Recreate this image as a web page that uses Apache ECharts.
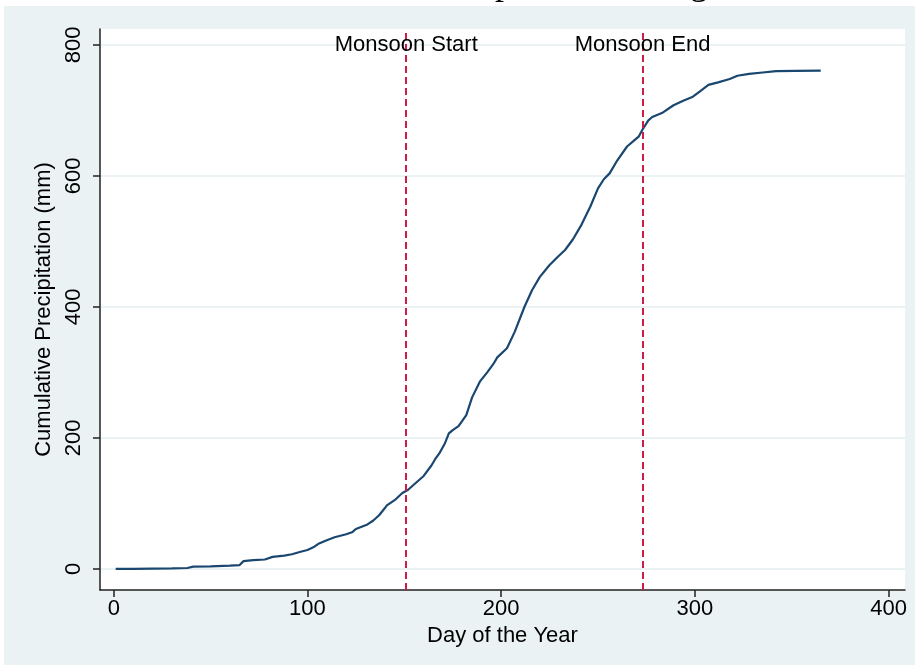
<!DOCTYPE html>
<html>
<head>
<meta charset="utf-8">
<script src="https://cdn.jsdelivr.net/npm/echarts@6/dist/echarts.min.js"></script>
<style>
  html, body { margin: 0; padding: 0; background: #fff; }
  #chart { width: 915px; height: 668px; }
</style>
</head>
<body>
<div id="chart"></div>
<script>
// day of year and cumulative precipitation (mm)
var days = [1, 10, 20, 30, 38, 41, 50, 60, 65, 67, 72, 78, 82, 88, 92, 96, 100, 103, 106, 110,
  114, 120, 123, 125, 131, 134, 137, 140, 141, 145, 149, 152, 155, 160, 164, 166, 168, 171, 173, 175,
  178, 182, 185, 189, 193, 196, 198, 203, 207, 212, 216, 220, 225, 229, 233, 237, 241, 246, 250, 253,
  256, 260, 265, 269, 271, 273, 276, 278, 283, 289, 294, 299, 303, 307, 312, 318, 322, 328, 335, 342,
  352, 365];
var cumRain = [0, 0.3, 0.6, 1, 1.5, 3.5, 4, 5, 6, 12, 13.5, 14.5, 18.5, 20.5, 22.5, 26, 29, 33, 39, 44,
  48.5, 53, 56, 61, 68, 74, 82, 93, 97, 105, 116, 121, 129, 142, 158, 168, 176, 192, 207, 212,
  218, 235, 262, 286, 301, 313, 323, 337, 362, 400, 426, 446, 464, 476, 487, 503, 523, 553, 581, 595,
  604, 624, 645, 655, 660, 671, 685, 690, 696, 708, 715, 721, 730, 739, 743, 748, 753, 756, 758, 760,
  760.5, 761];

var xTicks = [0, 100, 200, 300, 400];
var yTicks = [0, 200, 400, 600, 800];
var monsoonDays = [151, 273];
var monsoonLabels = ['Monsoon Start', 'Monsoon End'];

var font = 'Liberation Sans, Arial, sans-serif';
var chart = echarts.init(document.getElementById('chart'));

var options = {
  backgroundColor: '#fff',
  animation: false,
  graphic: [
    {	// graph region
      type: 'rect', z: -10, silent: true,
      shape: { x: 4, y: 6, width: 911, height: 659 },
      style: { fill: '#eaf2f3' }
    },
    {	// title, cut off at the top of the picture
      type: 'text', z: -5, silent: true,
      style: {
        x: 244, y: -15,
        text: 'Cumulative Precipitation during the Year',
        font: '36px "Liberation Serif", serif',
        fill: '#000',
        verticalAlign: 'middle'
      }
    }
  ],
  grid: {
    left: 100, right: 10, top: 29, bottom: 78,
    show: true, backgroundColor: '#fff', borderWidth: 0
  },
  xAxis: {
    type: 'value',
    min: -7.1, max: 408.5,
    name: 'Day of the Year',
    nameLocation: 'middle',
    nameGap: 28,
    nameTextStyle: { color: '#000', fontSize: 22, fontFamily: font },
    axisLine: { show: true, onZero: false, lineStyle: { color: '#222', width: 1.5 } },
    axisTick: { show: true, length: 7, customValues: xTicks, lineStyle: { color: '#222', width: 1.5 } },
    axisLabel: { customValues: xTicks, margin: 8, color: '#000', fontSize: 22, fontFamily: font },
    splitLine: { show: false }
  },
  yAxis: {
    type: 'value',
    min: -32.1, max: 824.4,
    name: 'Cumulative Precipitation (mm)',
    nameLocation: 'middle',
    nameGap: 42,
    nameTextStyle: { color: '#000', fontSize: 22, fontFamily: font },
    axisLine: { show: true, onZero: false, lineStyle: { color: '#222', width: 1.5 } },
    axisTick: { show: true, length: 7, customValues: yTicks, lineStyle: { color: '#222', width: 1.5 } },
    axisLabel: { customValues: yTicks, rotate: 90, margin: 15, color: '#000', fontSize: 22, fontFamily: font },
    splitLine: { show: true, lineStyle: { color: '#eaf2f3', width: 2 } }
  },
  series: [
    {
      name: 'Cumulative precipitation',
      type: 'line',
      z: 3,
      symbol: 'none',
      lineStyle: { color: '#1a476f', width: 2.2 },
      data: days.map(function (d, i) { return [d, cumRain[i]]; }),
      markLine: {
        silent: true,
        symbol: 'none',
        label: { show: false },
        lineStyle: { color: '#d01c44', width: 2, type: [7, 4] },
        data: monsoonDays.map(function (d) { return { xAxis: d }; })
      },
      markPoint: {
        silent: true,
        symbol: 'rect',
        symbolSize: 1,
        itemStyle: { color: 'rgba(0,0,0,0)' },
        label: {
          show: true, position: 'inside', formatter: '{b}',
          color: '#000', fontSize: 22, fontFamily: font
        },
        data: monsoonDays.map(function (d, i) {
          return { name: monsoonLabels[i], coord: [d, 800] };
        })
      }
    }
  ]
};

chart.setOption(options);
</script>
</body>
</html>
